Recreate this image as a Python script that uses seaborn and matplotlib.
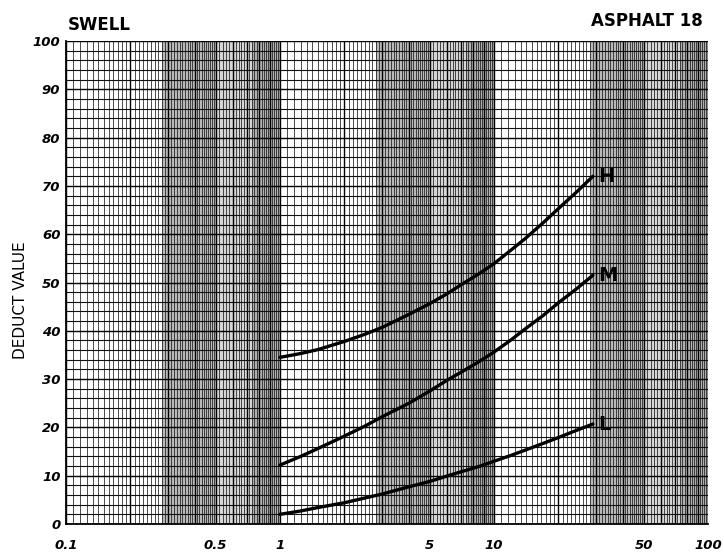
import numpy as np
import pandas as pd
import matplotlib
matplotlib.use("Agg")
import matplotlib.pyplot as plt
import seaborn as sns
from matplotlib.ticker import FixedLocator, FixedFormatter, NullLocator

# ---- data ----
quantity = [1, 1.25, 1.5, 2, 2.5, 3, 4, 5, 6, 7, 8.5, 10, 12, 14, 17, 20, 24, 29]
high = [34.5, 35.3, 36.1, 37.8, 39.3, 40.7, 43.4, 45.6, 47.6, 49.5, 51.8, 53.9,
        56.7, 59.1, 62.4, 65.3, 68.5, 72.0]
medium = [12.2, 14.0, 15.6, 18.2, 20.3, 22.2, 25.0, 27.5, 29.7, 31.4, 33.6, 35.6,
          38.1, 40.4, 43.2, 45.8, 48.5, 51.5]
low = [2.0, 2.7, 3.4, 4.4, 5.4, 6.2, 7.7, 8.8, 9.9, 10.8, 11.9, 13.0,
       14.2, 15.3, 16.7, 17.9, 19.3, 20.7]
levels = ["H", "M", "L"]

x_label_vals = [0.1, 0.5, 1, 5, 10, 50, 100]
x_label_text = ["0.1", "0.5", "1", "5", "10", "50", "100"]
y_ticks = [0, 10, 20, 30, 40, 50, 60, 70, 80, 90, 100]

title_left = "SWELL"
title_right = "ASPHALT 18"
y_label = "DEDUCT VALUE"

df = pd.DataFrame({
    "quantity": quantity * 3,
    "deduct": high + medium + low,
    "level": ["H"] * len(high) + ["M"] * len(medium) + ["L"] * len(low),
})

sns.set_style("white")
plt.rcParams["font.family"] = ["DejaVu Sans"]
plt.rcParams["text.color"] = "black"
plt.rcParams["xtick.color"] = "black"
plt.rcParams["ytick.color"] = "black"
plt.rcParams["axes.labelcolor"] = "black"

fig = plt.figure(figsize=(7.24, 5.53), dpi=100)
ax = fig.add_axes([66 / 724, 29 / 553, 642 / 724, 483 / 553])
ax.set_xscale("log")
ax.set_xlim(0.1, 100)
ax.set_ylim(0, 100)

# ---- printed-paper tone bands ----
for d in [0.1, 1, 10]:
    ax.axvspan(2.8 * d, 5 * d, color="#b9b9b9", lw=0, zorder=0)
    ax.axvspan(5 * d, 7.4 * d, color="#d6d6d6", lw=0, zorder=0)
    ax.axvspan(7.4 * d, 10 * d, color="#b0b0b0", lw=0, zorder=0)

# ---- log graph-paper grid ----
fine, major = [], []
for d in [0.1, 1, 10]:
    fine += list(d * np.arange(1, 2, 1 / 12))
    fine += list(d * np.arange(2, 5, 0.1))
    fine += list(d * np.arange(5, 10, 0.2))
    major += list(d * np.arange(1, 10))
major.append(100)
xt = ax.get_xaxis_transform()
ax.vlines(fine, 0, 1, transform=xt, color="#1a1a1a", lw=0.55, zorder=1)
ax.vlines(major, 0, 1, transform=xt, color="#000000", lw=1.0, zorder=1)

ax.hlines(np.arange(0, 101, 2), 0.1, 100, color="#111111", lw=0.8, zorder=1)
ax.hlines(np.arange(0, 101, 10), 0.1, 100, color="#000000", lw=0.95, zorder=1)

# ---- curves ----
sns.lineplot(data=df, x="quantity", y="deduct", hue="level", hue_order=levels,
             palette=["black"] * 3, linewidth=2.4, legend=False, ax=ax,
             zorder=3, sort=True, estimator=None)

for lev, ys in zip(levels, [high, medium, low]):
    ax.text(quantity[-1] * 1.06, ys[-1], lev, ha="left", va="center",
            fontsize=14, fontweight="bold", color="black", zorder=4)

# ---- axes / ticks ----
for s in ["top", "right"]:
    ax.spines[s].set_visible(False)
for s in ["left", "bottom"]:
    ax.spines[s].set_linewidth(1.3)
    ax.spines[s].set_color("black")

ax.xaxis.set_major_locator(FixedLocator(major))
ax.xaxis.set_major_formatter(FixedFormatter(
    [x_label_text[[abs(v - w) < 1e-9 for w in x_label_vals].index(True)]
     if any(abs(v - w) < 1e-9 for w in x_label_vals) else "" for v in major]))
ax.xaxis.set_minor_locator(NullLocator())
ax.set_yticks(y_ticks)
ax.set_yticklabels([str(v) for v in y_ticks])

ax.tick_params(axis="x", direction="out", length=5, width=1.1, pad=6,
               labelsize=9.5, color="black", labelcolor="black")
ax.tick_params(axis="y", length=0, pad=4, labelsize=9.5, labelcolor="black")
for lab in ax.get_xticklabels() + ax.get_yticklabels():
    lab.set_fontweight("bold")
    lab.set_fontstyle("italic")

ax.set_xlabel("")
ax.set_ylabel("")

fig.text(68 / 724, 1 - 25 / 553, title_left, ha="left", va="center",
         fontsize=12, fontweight="bold", color="black")
fig.text(703 / 724, 1 - 21 / 553, title_right, ha="right", va="center",
         fontsize=12, fontweight="bold", color="black")
fig.text(21 / 724, 1 - 300 / 553, y_label, ha="center", va="center",
         rotation=90, fontsize=11, color="black")

fig.savefig("out.png", dpi=100)
